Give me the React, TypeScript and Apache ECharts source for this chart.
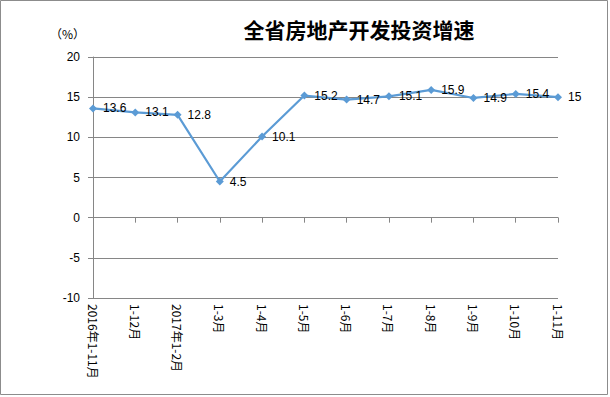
import React, { useEffect, useRef } from "react";
import * as echarts from "echarts";

const categories = [
  "2016年1-11月", "1-12月", "2017年1-2月", "1-3月", "1-4月", "1-5月",
  "1-6月", "1-7月", "1-8月", "1-9月", "1-10月", "1-11月",
];
const growth = [13.6, 13.1, 12.8, 4.5, 10.1, 15.2, 14.7, 15.1, 15.9, 14.9, 15.4, 15];
const yMin = -10;
const yMax = 20;
const yStep = 5;

export default function App() {
  const ref = useRef<HTMLDivElement>(null);
  useEffect(() => {
    const chart = echarts.init(ref.current!, null, { renderer: "svg" });
    const font = "'Liberation Sans', Arial, sans-serif";
    const cjk = "'Noto Sans CJK SC', sans-serif";
    chart.setOption({
      animation: false,
      backgroundColor: "#fff",
      title: {
        text: "全省房地产开发投资增速",
        left: 354,
        top: 13,
        textAlign: "center",
        textStyle: { fontSize: 21, fontWeight: "bold", color: "#000", fontFamily: cjk },
      },
      graphic: [
        {
          type: "rect",
          shape: { x: 0.5, y: 0.5, width: 607, height: 394 },
          style: { fill: "none", stroke: "#8c8c8c", lineWidth: 1 },
        },
        {
          type: "text",
          x: 50,
          y: 27,
          style: { text: "（%）", fontSize: 12, fill: "#000", fontFamily: cjk },
        },
      ],
      grid: { left: 93, right: 52, top: 57, bottom: 99 },
      xAxis: {
        type: "category",
        data: categories,
        boundaryGap: false,
        axisLine: { lineStyle: { color: "#868686" } },
        axisTick: { show: true, length: 5, lineStyle: { color: "#868686" } },
        axisLabel: {
          rotate: -90,
          fontSize: 12,
          color: "#000",
          margin: 6,
          interval: 0,
          fontFamily: cjk,
        },
      },
      yAxis: {
        type: "value",
        min: yMin,
        max: yMax,
        interval: yStep,
        axisLine: { show: true, lineStyle: { color: "#868686" } },
        axisTick: { show: true, length: 5, lineStyle: { color: "#868686" } },
        splitLine: { lineStyle: { color: "#868686" } },
        axisLabel: { fontSize: 12, color: "#000", margin: 13, fontFamily: font },
      },
      series: [
        {
          type: "line",
          data: growth,
          symbol: "diamond",
          symbolSize: 8,
          itemStyle: { color: "#5b9bd5" },
          lineStyle: { color: "#5b9bd5", width: 2.2 },
          label: {
            show: true,
            position: "right",
            distance: 6,
            fontSize: 12,
            color: "#000",
            fontFamily: font,
          },
        },
      ],
    });
    return () => chart.dispose();
  }, []);
  return <div ref={ref} style={{ width: 610, height: 397, position: "absolute", left: 0, top: 0 }} />;
}
